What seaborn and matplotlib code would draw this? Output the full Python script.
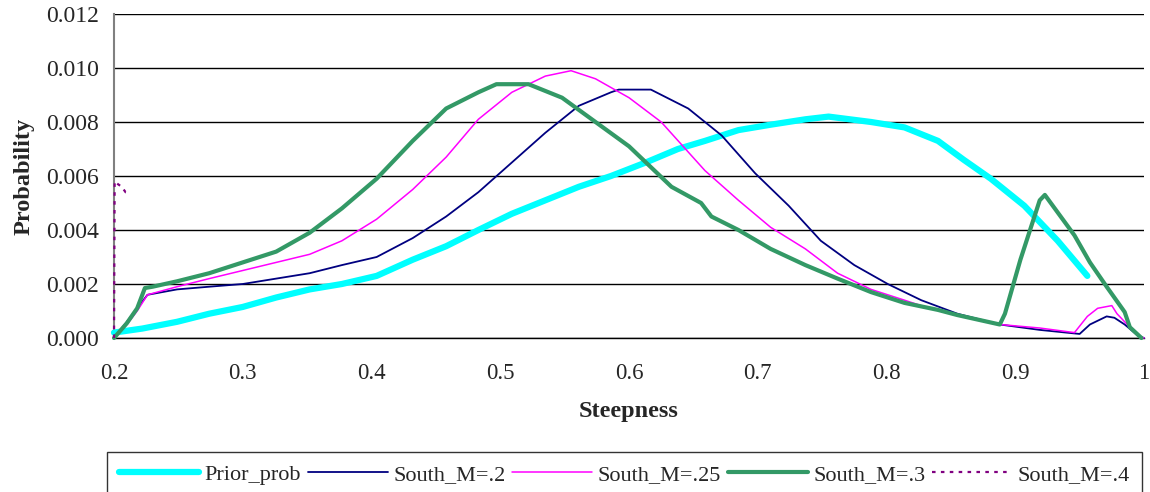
import matplotlib
matplotlib.use("Agg")
import matplotlib.pyplot as plt
import seaborn as sns
import numpy as np

# ---- data ----
prior_x = [0.2, 0.222, 0.249, 0.274, 0.3, 0.326, 0.352, 0.377, 0.404, 0.432, 0.458, 0.483, 0.509,
           0.535, 0.561, 0.586, 0.613, 0.638, 0.659, 0.685, 0.71, 0.737, 0.755, 0.788, 0.814, 0.84,
           0.86, 0.881, 0.907, 0.933, 0.956]
prior_y = [0.0002, 0.00035, 0.0006, 0.0009, 0.00115, 0.0015, 0.0018, 0.0020, 0.0023, 0.0029, 0.0034,
           0.0040, 0.0046, 0.0051, 0.0056, 0.0060, 0.0065, 0.0070, 0.0073, 0.0077, 0.0079, 0.0081,
           0.0082, 0.0080, 0.0078, 0.0073, 0.0066, 0.0059, 0.0049, 0.0036, 0.0023]

m20_x = [0.2, 0.21, 0.226, 0.249, 0.274, 0.3, 0.326, 0.352, 0.377, 0.404, 0.432, 0.458, 0.483, 0.509,
         0.535, 0.561, 0.586, 0.592, 0.617, 0.646, 0.672, 0.698, 0.724, 0.749, 0.775, 0.801, 0.827,
         0.855, 0.888, 0.919, 0.95, 0.958, 0.971, 0.977, 0.985, 0.995, 1.0]
m20_y = [0.0, 0.0006, 0.0016, 0.0018, 0.0019, 0.0020, 0.0022, 0.0024, 0.0027, 0.0030, 0.0037, 0.0045,
         0.0054, 0.0065, 0.0076, 0.0086, 0.0091, 0.0092, 0.0092, 0.0085, 0.0075, 0.0061, 0.0049, 0.0036,
         0.0027, 0.0020, 0.0014, 0.0009, 0.0005, 0.0003, 0.00015, 0.0005, 0.0008, 0.00075, 0.0005,
         0.0001, 0.0]

m25_x = [0.2, 0.21, 0.218, 0.226, 0.249, 0.274, 0.3, 0.326, 0.352, 0.377, 0.404, 0.432, 0.458, 0.483,
         0.509, 0.535, 0.555, 0.574, 0.6, 0.625, 0.659, 0.685, 0.71, 0.737, 0.762, 0.788, 0.814, 0.83,
         0.855, 0.888, 0.919, 0.946, 0.956, 0.964, 0.975, 0.979, 0.989, 0.995, 1.0]
m25_y = [0.0, 0.0005, 0.001, 0.0016, 0.0019, 0.0022, 0.0025, 0.0028, 0.0031, 0.0036, 0.0044, 0.0055,
         0.0067, 0.0081, 0.0091, 0.0097, 0.0099, 0.0096, 0.0089, 0.0080, 0.0062, 0.0051, 0.0041, 0.0033,
         0.0024, 0.0018, 0.0014, 0.00115, 0.00085, 0.0005, 0.00037, 0.0002, 0.0008, 0.0011, 0.0012,
         0.0009, 0.0004, 0.0001, 0.0]

m30_x = [0.2, 0.21, 0.218, 0.224, 0.23, 0.249, 0.274, 0.3, 0.326, 0.352, 0.377, 0.404, 0.432, 0.458,
         0.483, 0.497, 0.522, 0.548, 0.574, 0.6, 0.633, 0.656, 0.664, 0.685, 0.71, 0.737, 0.762, 0.788,
         0.814, 0.84, 0.855, 0.888, 0.892, 0.904, 0.919, 0.923, 0.946, 0.958, 0.971, 0.985, 0.989, 0.998]
m30_y = [0.0, 0.00055, 0.0011, 0.00185, 0.0019, 0.0021, 0.0024, 0.0028, 0.0032, 0.0039, 0.0048, 0.0059,
         0.0073, 0.0085, 0.0091, 0.0094, 0.0094, 0.0089, 0.0080, 0.0071, 0.0056, 0.0050, 0.0045, 0.0040,
         0.0033, 0.0027, 0.0022, 0.0017, 0.0013, 0.00104, 0.00085, 0.0005, 0.0009, 0.0029, 0.0051,
         0.0053, 0.0038, 0.0028, 0.0019, 0.00096, 0.0004, 0.0]

m40_x = [0.2, 0.2005, 0.203, 0.206, 0.209, 0.211]
m40_y = [0.0, 0.0058, 0.0057, 0.0056, 0.0054, 0.0054]

labels = ["Prior_prob", "South_M=.2", "South_M=.25", "South_M=.3", "South_M=.4"]
colors = ["#00FFFF", "#000080", "#FF00FF", "#339966", "#800080"]

x_ticks = [0.2, 0.3, 0.4, 0.5, 0.6, 0.7, 0.8, 0.9, 1.0]
x_tick_labels = ["0.2", "0.3", "0.4", "0.5", "0.6", "0.7", "0.8", "0.9", "1"]
y_ticks = [0.0, 0.002, 0.004, 0.006, 0.008, 0.010, 0.012]
y_tick_labels = ["0.000", "0.002", "0.004", "0.006", "0.008", "0.010", "0.012"]

# ---- style ----
sns.set_style("white")
plt.rcParams["font.family"] = ["Liberation Serif", "DejaVu Serif"]

fig = plt.figure(figsize=(11.5, 4.92), dpi=100)
ax = fig.add_axes([114 / 1150, 1 - 338 / 492, (1144 - 114) / 1150, (338 - 14) / 492])

series = [(prior_x, prior_y, 4.5, "-"),
          (m20_x, m20_y, 1.3, "-"),
          (m25_x, m25_y, 1.1, "-"),
          (m30_x, m30_y, 3.0, "-"),
          (m40_x, m40_y, 1.6, (0, (1.6, 2.4)))]

for (xs, ys, lw, ls), lab, col in zip(series, labels, colors):
    sns.lineplot(x=xs, y=ys, ax=ax, color=col, linewidth=lw, linestyle=ls,
                 label=lab, sort=False, estimator=None, legend=False)

for ln in ax.get_lines():
    ln.set_zorder(3)
    ln.set_clip_on(False)

ax.set_xlim(0.2, 1.0)
ax.set_ylim(0.0, 0.012)
ax.set_xticks(x_ticks)
ax.set_xticklabels(x_tick_labels, fontsize=16.5)
ax.set_yticks(y_ticks)
ax.set_yticklabels(y_tick_labels, fontsize=17)
ax.yaxis.grid(True, color="black", linewidth=1.0)
ax.xaxis.grid(False)
ax.set_axisbelow(True)

for s in ["top", "right"]:
    ax.spines[s].set_visible(False)
ax.spines["left"].set_color("#808080")
ax.spines["left"].set_linewidth(1.5)
ax.spines["left"].set_zorder(2.5)
ax.spines["bottom"].set_color("black")
ax.spines["bottom"].set_linewidth(1.0)
ax.tick_params(axis="x", direction="out", length=6, width=1.2, color="#808080", pad=12)
ax.tick_params(axis="y", direction="out", length=7, width=1.0, color="black", pad=4)

ax.set_xlabel("Steepness", fontsize=17.5, fontweight="bold", labelpad=12)
ax.set_ylabel("Probability", fontsize=17.5, fontweight="bold", labelpad=8)

handles = ax.get_lines()[:5]
leg = fig.legend(handles, labels, loc="upper left", bbox_to_anchor=(107 / 1150, 1 - 452 / 492),
                 ncol=5, fontsize=16, frameon=True, fancybox=False, handlelength=3.6,
                 handletextpad=0.25, columnspacing=0.3, borderpad=0.55, borderaxespad=0)
leg.get_frame().set_edgecolor("black")
leg.get_frame().set_linewidth(1.0)

fig.savefig("out.png", dpi=100)
